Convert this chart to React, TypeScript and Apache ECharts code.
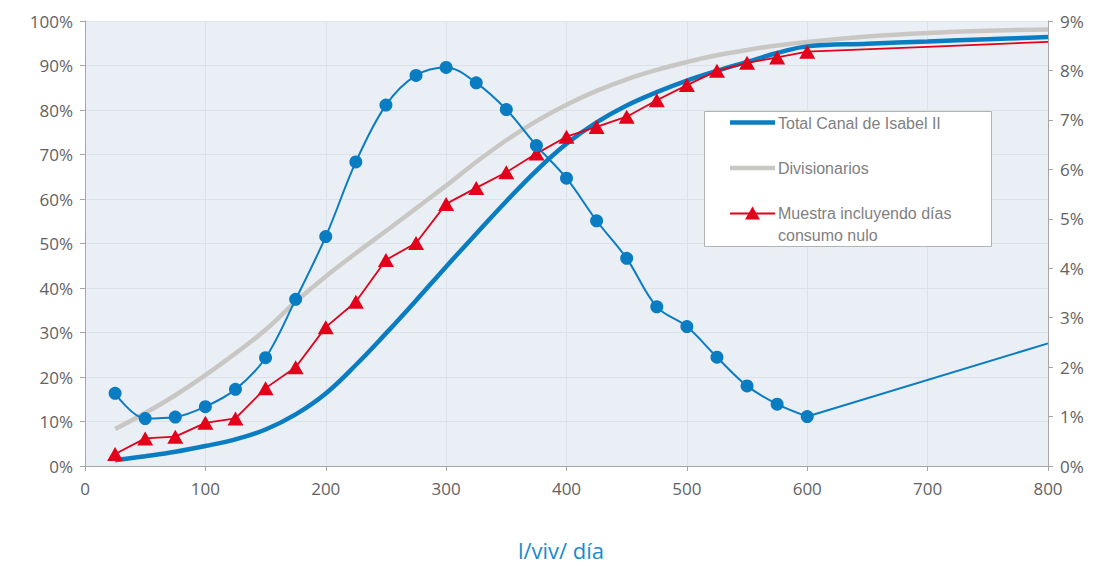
import React, { useEffect, useRef } from "react";
import * as echarts from "echarts";

// x positions (l/viv/día)
const xMarked = [25, 50, 75, 100, 125, 150, 175, 200, 225, 250, 275, 300, 325, 350, 375, 400, 425, 450, 475, 500, 525, 550, 575, 600];
const xCumTail = [650, 700, 750, 800];
const xDistTail = [600, 800];
const xMuestraTail = [700, 800];

// Distribution (right axis, %)
const distribucion = [1.47, 0.96, 0.99, 1.2, 1.55, 2.19, 3.37, 4.64, 6.15, 7.3, 7.9, 8.06, 7.75, 7.21, 6.48, 5.82, 4.96, 4.2, 3.22, 2.82, 2.2, 1.62, 1.25, 1.0];
const distribucionTail = [1.0, 2.48];

// Cumulative curves (left axis, %)
const totalCanal = [1.3, 2.2, 3.2, 4.5, 6.0, 8.2, 11.6, 16.3, 22.7, 29.8, 37.2, 44.8, 52.2, 59.5, 66.4, 72.4, 77.2, 81.0, 84.0, 86.6, 88.8, 90.8, 92.8, 94.3];
const totalCanalTail = [94.9, 95.4, 95.9, 96.4];

const divisionarios = [8.3, 11.9, 15.9, 20.4, 25.3, 30.6, 36.9, 42.6, 47.8, 52.8, 57.9, 63.0, 68.3, 73.2, 77.5, 81.2, 84.3, 86.9, 89.0, 90.8, 92.3, 93.5, 94.5, 95.3];
const divisionariosTail = [96.5, 97.3, 97.8, 98.1];

const muestra = [2.7, 6.2, 6.6, 9.7, 10.7, 17.5, 22.2, 31.2, 36.9, 46.3, 50.1, 58.9, 62.5, 66.0, 70.2, 74.0, 76.2, 78.5, 82.2, 85.6, 88.8, 90.6, 91.8, 93.1];
const muestraTail = [94.2, 95.3];

const legendNames = ["Total Canal de Isabel II", "Divisionarios", "Muestra incluyendo días", "consumo nulo"];
const axisTitle = "l/viv/ día";

const BLUE = "#0a7cc1";
const GREY = "#c9c7c3";
const RED = "#e2001a";
const AXIS_TEXT = "#626262";

function pairs(xs: number[], ys: number[]) {
  return xs.map((x, i) => [x, ys[i]]);
}

export default function App() {
  const ref = useRef<HTMLDivElement>(null);
  useEffect(() => {
    if (!ref.current) return;
    const chart = echarts.init(ref.current, null, { renderer: "svg" });
    const axisFont = { fontFamily: "Open Sans", fontSize: 17, color: AXIS_TEXT };
    const legendFont = "16px 'Liberation Sans', Arial, sans-serif";
    const option: any = {
      animation: false,
      backgroundColor: "#ffffff",
      grid: {
        left: 85,
        top: 21,
        right: 67,
        bottom: 100,
        show: true,
        backgroundColor: "#eaeff6",
        borderWidth: 0,
      },
      xAxis: {
        type: "value",
        min: 0,
        max: 800,
        interval: 100,
        axisLine: { lineStyle: { color: "#a6a6a6", width: 1 } },
        axisTick: { show: true, length: 5, lineStyle: { color: "#a6a6a6" } },
        axisLabel: { ...axisFont, margin: 14 },
        splitLine: { show: true, lineStyle: { color: "#dce2e9", width: 1 } },
      },
      yAxis: [
        {
          type: "value",
          min: 0,
          max: 100,
          interval: 10,
          position: "left",
          axisLine: { show: true, lineStyle: { color: "#a6a6a6", width: 1 } },
          axisTick: { show: true, length: 5, lineStyle: { color: "#a6a6a6" } },
          axisLabel: { ...axisFont, margin: 12, formatter: (v: number) => `${v}%` },
          splitLine: { show: true, lineStyle: { color: "#dce2e9", width: 1 } },
        },
        {
          type: "value",
          min: 0,
          max: 9,
          interval: 1,
          position: "right",
          axisLine: { show: true, lineStyle: { color: "#a6a6a6", width: 1 } },
          axisTick: { show: true, length: 5, lineStyle: { color: "#a6a6a6" } },
          axisLabel: { ...axisFont, margin: 12, formatter: (v: number) => `${v}%` },
          splitLine: { show: false },
        },
      ],
      series: [
        {
          name: "Divisionarios",
          type: "line",
          yAxisIndex: 0,
          smooth: 0.4,
          symbol: "none",
          lineStyle: { color: GREY, width: 4.5 },
          itemStyle: { color: GREY },
          data: pairs(xMarked.concat(xCumTail), divisionarios.concat(divisionariosTail)),
          z: 2,
        },
        {
          name: "Total Canal de Isabel II",
          type: "line",
          yAxisIndex: 0,
          smooth: 0.4,
          symbol: "none",
          lineStyle: { color: BLUE, width: 4.5 },
          itemStyle: { color: BLUE },
          data: pairs(xMarked.concat(xCumTail), totalCanal.concat(totalCanalTail)),
          z: 3,
        },
        {
          name: "Muestra incluyendo días consumo nulo",
          type: "line",
          yAxisIndex: 0,
          smooth: false,
          symbol: "triangle",
          symbolSize: [16, 14],
          lineStyle: { color: RED, width: 1.8 },
          itemStyle: { color: RED },
          data: pairs(xMarked, muestra).concat(
            pairs(xMuestraTail, muestraTail).map((p) => ({ value: p, symbol: "none" }) as any)
          ),
          z: 4,
        },
        {
          name: "Distribución",
          type: "line",
          yAxisIndex: 1,
          smooth: 0.35,
          symbol: "circle",
          symbolSize: 13,
          lineStyle: { color: BLUE, width: 2 },
          itemStyle: { color: BLUE },
          data: pairs(xMarked, distribucion),
          z: 5,
        },
        {
          name: "Distribución (cola)",
          type: "line",
          yAxisIndex: 1,
          smooth: false,
          symbol: "none",
          lineStyle: { color: BLUE, width: 2 },
          itemStyle: { color: BLUE },
          data: pairs(xDistTail, distribucionTail),
          z: 5,
        },
      ],
      graphic: [
        {
          type: "rect",
          shape: { x: 704.5, y: 111.5, width: 287, height: 135 },
          style: { fill: "#ffffff", stroke: "#b3b3b3", lineWidth: 1 },
          z: 100,
        },
        {
          type: "line",
          shape: { x1: 730, y1: 122.5, x2: 775, y2: 122.5 },
          style: { stroke: BLUE, lineWidth: 4.5 },
          z: 101,
        },
        {
          type: "line",
          shape: { x1: 730, y1: 168, x2: 775, y2: 168 },
          style: { stroke: GREY, lineWidth: 4.5 },
          z: 101,
        },
        {
          type: "line",
          shape: { x1: 730, y1: 213.5, x2: 775, y2: 213.5 },
          style: { stroke: RED, lineWidth: 1.8 },
          z: 101,
        },
        {
          type: "polygon",
          shape: { points: [[752.5, 206.5], [760, 219.5], [745, 219.5]] },
          style: { fill: RED },
          z: 102,
        },
        {
          type: "text",
          x: 778,
          y: 123,
          style: { text: legendNames[0], font: legendFont, fill: "#7f7f7f", textVerticalAlign: "middle" },
          z: 101,
        },
        {
          type: "text",
          x: 778,
          y: 168.5,
          style: { text: legendNames[1], font: legendFont, fill: "#7f7f7f", textVerticalAlign: "middle" },
          z: 101,
        },
        {
          type: "text",
          x: 778,
          y: 213.5,
          style: { text: legendNames[2], font: legendFont, fill: "#7f7f7f", textVerticalAlign: "middle" },
          z: 101,
        },
        {
          type: "text",
          x: 778,
          y: 235,
          style: { text: legendNames[3], font: legendFont, fill: "#7f7f7f", textVerticalAlign: "middle" },
          z: 101,
        },
        {
          type: "text",
          x: 561,
          y: 550,
          style: {
            text: axisTitle,
            font: "22px 'Open Sans', sans-serif",
            fill: "#1a8ad0",
            textAlign: "center",
            textVerticalAlign: "middle",
          },
          z: 101,
        },
      ],
    };
    chart.setOption(option);
    return () => chart.dispose();
  }, []);
  return (
    <div
      ref={ref}
      style={{ position: "fixed", left: 0, top: 0, width: 1115, height: 566, background: "#ffffff" }}
    />
  );
}
